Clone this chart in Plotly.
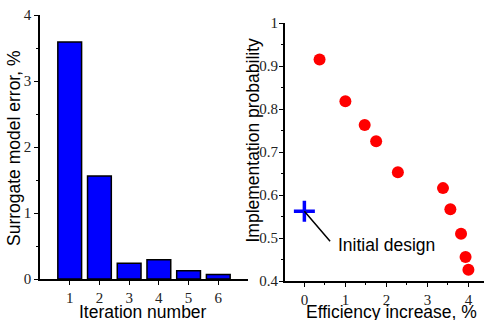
import plotly.graph_objects as go

# Left panel: surrogate model error per iteration
iterations = [1, 2, 3, 4, 5, 6]
model_error = [3.59, 1.56, 0.24, 0.29, 0.125, 0.07]

# Right panel: Pareto points (efficiency increase vs implementation probability)
eff_increase = [0.37, 1.0, 1.47, 1.75, 2.28, 3.38, 3.56, 3.82, 3.93, 4.0]
impl_prob = [0.915, 0.818, 0.763, 0.725, 0.653, 0.616, 0.567, 0.51, 0.456, 0.426]

# Initial design
init_eff = [0.0]
init_prob = [0.562]
init_label = "Initial design"

left_ytick = [0, 1, 2, 3, 4]
right_ytick = [0.4, 0.5, 0.6, 0.7, 0.8, 0.9, 1]
right_ytick_text = ["0.4", "0.5", "0.6", "0.7", "0.8", "0.9", "1"]
right_xtick = [0, 1, 2, 3, 4]

W, H = 484, 320
SANS = "Liberation Sans, Arial, sans-serif"
SERIF = "Liberation Serif, Times New Roman, serif"

fig = go.Figure()

fig.add_trace(go.Bar(
    x=iterations, y=model_error, width=0.8,
    marker=dict(color="#0000FF", line=dict(color="black", width=1.5)),
    xaxis="x", yaxis="y", showlegend=False,
))

fig.add_trace(go.Scatter(
    x=eff_increase, y=impl_prob, mode="markers",
    marker=dict(color="#FF0000", size=12, symbol="circle"),
    xaxis="x2", yaxis="y2", showlegend=False,
))

fig.add_trace(go.Scatter(
    x=init_eff, y=init_prob, mode="markers",
    marker=dict(color="#0000FF", size=15, symbol="cross-thin",
                line=dict(color="#0000FF", width=3.5)),
    xaxis="x2", yaxis="y2", showlegend=False,
))

axis_common = dict(
    showgrid=False, zeroline=False, showline=True, linecolor="black", linewidth=1.5,
    ticks="outside", ticklen=4, tickwidth=1.2, tickcolor="black",
    tickfont=dict(family=SERIF, size=15, color="#222"),
)

fig.update_layout(
    width=W, height=H,
    margin=dict(l=0, r=0, t=0, b=0, autoexpand=False),
    paper_bgcolor="white", plot_bgcolor="white",
    bargap=0.2,
    xaxis=dict(domain=[40 / W, 248 / W], range=[0, 7], tickvals=iterations,
               anchor="y", **axis_common),
    yaxis=dict(domain=[(H - 279) / H, (H - 15) / H], range=[0, 4], tickvals=left_ytick,
               anchor="x",
               minor=dict(ticks="outside", ticklen=2, dtick=0.5, tickcolor="black"),
               **axis_common),
    xaxis2=dict(domain=[284.7 / W, 1.0], range=[-0.48, 4.38], tickvals=right_xtick,
                anchor="y2",
                minor=dict(ticks="outside", ticklen=2, dtick=0.5, tickcolor="black"),
                **axis_common),
    yaxis2=dict(domain=[(H - 281) / H, (H - 23) / H], range=[0.4, 1.0],
                tickvals=right_ytick, ticktext=right_ytick_text, anchor="x2",
                ticklabelstandoff=-2,
                minor=dict(ticks="outside", ticklen=2, dtick=0.05, tickcolor="black"),
                **axis_common),
)

title_font = dict(family=SANS, size=17.5, color="black")
fig.add_annotation(text="Surrogate model error, %", xref="paper", yref="paper",
                   x=14 / W, y=(H - 148) / H, textangle=-90, showarrow=False,
                   xanchor="center", yanchor="middle", font=title_font)
fig.add_annotation(text="Iteration number", xref="paper", yref="paper",
                   x=142.5 / W, y=(H - 311.5) / H, showarrow=False,
                   xanchor="center", yanchor="middle", font=title_font)
fig.add_annotation(text="Implementation probability", xref="paper", yref="paper",
                   x=252.5 / W, y=(H - 140) / H, textangle=-90, showarrow=False,
                   xanchor="center", yanchor="middle", font=title_font)
fig.add_annotation(text="Efficiency increase, %", xref="paper", yref="paper",
                   x=391 / W, y=(H - 311.5) / H, showarrow=False,
                   xanchor="center", yanchor="middle", font=title_font)

# Pointer line from the initial design marker
fig.add_annotation(x=init_eff[0], y=init_prob[0], xref="x2", yref="y2", text="",
                   showarrow=True, arrowhead=0, arrowwidth=1.5, arrowcolor="black",
                   ax=27, ay=31.5, standoff=0, startstandoff=0)
fig.add_annotation(x=init_eff[0], y=init_prob[0], xref="x2", yref="y2", text=init_label,
                   showarrow=False, xanchor="left", yanchor="middle",
                   xshift=32, yshift=-34, font=dict(family=SANS, size=17.5, color="black"))

fig.write_html("out.html")
